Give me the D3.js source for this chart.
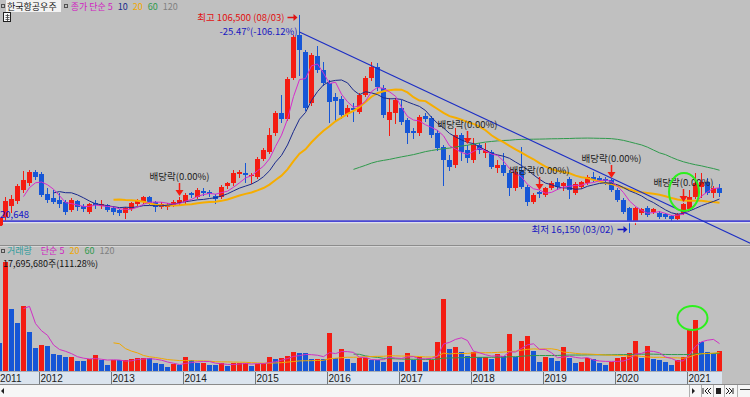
<!DOCTYPE html>
<html>
<head>
<meta charset="utf-8">
<script src="https://cdn.jsdelivr.net/npm/d3@7"></script>
<style>
  body { margin: 0; background: #c0c0c0; }
  svg { display: block; font-family: "Noto Sans CJK KR", "Noto Sans", sans-serif; }
</style>
</head>
<body>
<svg id="chart" width="750" height="397"></svg>
<script>
// 월봉 구간 (2011-06 ~ 2021-06)
var months = d3.timeMonth.range(new Date(2011, 5, 1), new Date(2021, 6, 1));
var keys = months.map(d3.timeFormat("%Y-%m"));

// 시가 / 고가 / 저가 / 종가 (원)
var open = [18650,22400,26950,29050,33650,36550,41150,40300,31950,30300,
  29450,28650,25300,29050,26950,24500,28200,26950,27400,26150,
  25300,24050,25700,27800,28650,30700,28650,26550,26550,27400,
  28200,28650,32400,30700,33200,32800,31150,30700,35300,36550,
  40300,40700,39450,39050,46550,49450,57350,65700,63200,80250,
  98150,91100,69850,89450,83600,78200,72350,71550,65300,67800,
  66100,73200,80250,84850,76100,62800,65700,67800,62800,58200,
  57350,64450,63600,57350,51550,46150,44050,56550,50300,46150,
  52350,49050,49450,42800,44050,40700,34450,41950,34900,28650,
  32800,31550,34450,36950,35300,38200,32400,34900,36550,39050,
  38650,38200,37800,33650,29450,26150,20300,24050,26150,24500,
  24050,23650,22800,21550,24050,25700,30700,34900,36950,32400,
  34450];
var high = [23250,30700,31550,36150,41550,41950,41950,41150,34450,33650,
  32400,29450,30300,29450,27800,28200,29450,29450,27800,26950,
  25700,26550,28650,29900,31150,31150,29050,28650,28200,29450,
  30700,32400,32800,34450,34450,33650,31950,35700,36950,41950,
  41950,44900,40700,47400,51100,59450,66550,73200,80700,98150,
  106500,91950,90700,93600,86950,79450,74000,72750,69050,69850,
  74000,81100,86950,86500,77350,71950,71950,71100,63600,59450,
  64850,65700,64450,58600,52350,48200,59450,57350,52350,55300,
  53200,53200,50300,46150,49050,41950,41950,51550,35700,32400,
  33200,34900,37400,38650,36950,39050,36950,37400,39900,41150,
  39450,39050,38200,34450,30300,26550,26550,26150,26950,26150,
  24900,24050,23250,24050,28200,33650,40700,40700,38650,35300,
  36150];
var low = [18250,20750,24500,28200,32800,35700,38200,31150,28650,28200,
  26550,23650,24900,25300,24900,24050,26150,26150,24900,23650,
  23250,21950,25300,27400,28200,27800,24900,26150,25700,26950,
  27400,28200,30700,30300,31550,31150,28200,30300,34450,35700,
  39050,36950,36550,38650,46150,49050,56550,61950,62800,79850,
  81500,66950,69050,82750,77350,61950,62800,63600,64450,62350,
  65700,72750,79450,75250,64050,56550,61550,61100,53200,55300,
  56550,62350,55700,50300,35700,41950,43200,46150,45300,45300,
  49050,47400,42800,41150,39900,31550,33650,34450,27400,28200,
  30700,31150,34050,34050,33650,30300,31950,34450,36150,37400,
  37400,36150,33200,29050,24050,16150,19500,23650,22800,24050,
  21950,21950,21150,21550,23650,25300,30300,30700,31950,30700,
  31150];
var close = [22400,29050,29900,35300,37800,41150,39050,31550,29450,28650,
  27800,24500,29450,26550,25700,27800,27400,27800,25300,24500,
  24050,26150,28200,29450,30700,28200,26550,27800,27400,28650,
  29450,31550,31550,33650,32400,31950,29900,34900,36550,40700,
  41150,39900,39900,46550,50300,56550,65700,63200,79850,97350,
  91950,67800,89850,83600,78200,70300,70700,64850,67800,66950,
  73200,80250,84850,76500,64850,66100,71100,61950,57350,57350,
  64050,63200,56550,51100,46150,43200,56550,49450,46950,52350,
  50300,50300,43200,44050,40700,34450,41150,34900,28650,31550,
  31950,34450,36550,34900,36550,33650,36150,36950,39050,37800,
  37800,37400,33650,29450,24500,20300,26150,25700,23250,25700,
  22400,22400,21550,23650,27800,30700,36550,36950,32400,34450,
  32400];

// 거래량 (백만주)
var volume = [24.8,96.5,54.9,42.5,57.5,34.5,20.4,23.0,22.5,15.0,
  14.2,12.4,12.8,8.8,8.6,10.6,14.2,9.7,5.3,9.7,
  9.5,9.8,10.6,11.5,11.6,11.4,7.1,6.2,3.5,6.2,
  5.3,12.4,9.7,7.1,7.5,5.3,5.0,7.1,4.4,7.1,
  7.3,7.5,4.4,6.2,7.1,12.4,10.6,11.5,13.3,16.8,
  15.9,15.6,10.6,10.8,10.5,33.6,11.5,19.5,10.6,7.1,
  11.5,11.6,9.7,9.5,8.0,22.1,8.0,7.9,15.9,9.7,
  12.4,8.0,9.7,25.7,63.7,19.5,21.2,16.8,13.3,16.8,
  12.4,12.6,10.6,15.0,13.3,32.7,12.4,26.5,31.0,17.7,
  8.0,12.4,11.5,8.8,21.2,11.5,7.1,8.0,11.5,10.6,
  7.1,5.3,8.0,11.5,12.4,15.9,26.5,11.5,22.1,10.6,
  9.7,8.0,5.3,9.7,12.4,36.3,45.1,25.7,16.8,15.9,
  17.7];

// 배당락 표시 월
var dividendMonths = ["2013-12", "2017-12", "2018-12", "2019-12", "2020-12"];
var years = ["2011","2012","2013","2014","2015","2016","2017","2018","2019","2020","2021"];
var hLinePrice = 20648;
var trendFrom = { key: "2015-08", price: 99400 };
var trendSlope = -1170;   // 원 / 월
var highKey = "2015-08", lowKey = "2020-03";

var RED = "#f41c12", BLUE = "#1656d6";

var svg = d3.select("#chart");

var x = d3.scaleBand().domain(keys).range([-4, 722]);
var yP = d3.scaleLinear().domain([16150, 106500]).range([232, 15]);
var yV = d3.scaleLinear().domain([0, 115]).range([371, 241]);
function cx(k) { return x(k) + 3.5; }

function movingAvg(arr, n) {
  return arr.map(function(d, i) {
    if (i < n - 1) return null;
    return d3.mean(arr.slice(i - n + 1, i + 1));
  });
}

// 패널 구분선
svg.append("line").attr("x1", 0).attr("x2", 750).attr("y1", 245.5).attr("y2", 245.5).attr("stroke", "#8c8c8c");
svg.append("line").attr("x1", 0).attr("x2", 750).attr("y1", 246.5).attr("y2", 246.5).attr("stroke", "#d6d6d6");

// 캔들
var cg = svg.append("g");
cg.selectAll("line").data(keys).join("line")
  .attr("x1", cx).attr("x2", cx)
  .attr("y1", function(k, i) { return Math.round(yP(high[i])); })
  .attr("y2", function(k, i) { return Math.round(yP(low[i])) + 1; })
  .attr("stroke", function(k, i) { return close[i] >= open[i] ? RED : BLUE; });
cg.selectAll("rect").data(keys).join("rect")
  .attr("x", function(k) { return x(k) + 1; })
  .attr("width", 5)
  .attr("y", function(k, i) { return Math.round(yP(Math.max(open[i], close[i]))); })
  .attr("height", function(k, i) {
    var t = Math.round(yP(Math.max(open[i], close[i]))), b = Math.round(yP(Math.min(open[i], close[i])));
    return Math.max(1, b - t);
  })
  .attr("fill", function(k, i) { return close[i] >= open[i] ? RED : BLUE; });

// 이동평균선 (가격)
var maStyles = [
  { n: 60, color: "#2f9a4c", w: 1 },
  { n: 20, color: "#f6ad00", w: 2 },
  { n: 10, color: "#1a2a8c", w: 1 },
  { n: 5, color: "#d62ccc", w: 1 }
];
maStyles.forEach(function(s) {
  var ma = movingAvg(close, s.n);
  var line = d3.line().defined(function(d) { return d != null; })
    .x(function(d, i) { return cx(keys[i]); }).y(function(d) { return yP(d); });
  svg.append("path").attr("d", line(ma)).attr("fill", "none")
    .attr("stroke", s.color).attr("stroke-width", s.w);
});

// 수평선
svg.append("line").attr("x1", 0).attr("x2", 750)
  .attr("y1", yP(hLinePrice)).attr("y2", yP(hLinePrice))
  .attr("stroke", "#4a48d4").attr("stroke-width", 2);
svg.append("line").attr("x1", 0).attr("x2", 750)
  .attr("y1", yP(hLinePrice) + 1.5).attr("y2", yP(hLinePrice) + 1.5)
  .attr("stroke", "#ececf8").attr("stroke-width", 1);
svg.append("rect").attr("x", 0).attr("y", yP(hLinePrice) - 4).attr("width", 3).attr("height", 8).attr("fill", RED);

// 추세선
var xEnd = 752;
var monthsToEnd = (xEnd - cx(trendFrom.key)) / x.step();
svg.append("line")
  .attr("x1", cx(trendFrom.key)).attr("y1", yP(trendFrom.price))
  .attr("x2", xEnd).attr("y2", yP(trendFrom.price + trendSlope * monthsToEnd))
  .attr("stroke", "#1c2ec4").attr("stroke-width", 1.2);

// 배당락 화살표
dividendMonths.forEach(function(k) {
  var i = keys.indexOf(k);
  var bx = cx(k), by = Math.round(yP(high[i])) - 1;
  svg.append("line").attr("x1", bx).attr("x2", bx).attr("y1", by - 13).attr("y2", by - 5)
    .attr("stroke", RED).attr("stroke-width", 1.5);
  svg.append("path").attr("d", "M" + (bx - 4) + "," + (by - 6) + "L" + (bx + 4) + "," + (by - 6) + "L" + bx + "," + by + "Z")
    .attr("fill", RED);
  svg.append("text").attr("x", bx).attr("y", by - 16).attr("text-anchor", "middle")
    .attr("font-size", 9.5).attr("fill", "#202020").text("배당락(0.00%)");
});

// 최고 / 최저 표시
var hx = cx(highKey), hy = yP(high[keys.indexOf(highKey)]);
svg.append("text").attr("x", hx - 15).attr("y", hy + 6).attr("text-anchor", "end")
  .attr("font-size", 9.5).attr("fill", "#e01010").text("최고 106,500 (08/03)");
svg.append("line").attr("x1", hx - 12).attr("x2", hx - 5).attr("y1", hy + 2.5).attr("y2", hy + 2.5)
  .attr("stroke", "#e01010").attr("stroke-width", 1.5);
svg.append("path").attr("d", "M" + (hx - 6) + "," + (hy - 1) + "L" + (hx - 2) + "," + (hy + 2.5) + "L" + (hx - 6) + "," + (hy + 6) + "Z")
  .attr("fill", "#e01010");
svg.append("text").attr("x", hx - 2).attr("y", yP(trendFrom.price) + 3).attr("text-anchor", "end")
  .attr("font-size", 9.5).attr("fill", "#1818c0").text("-25.47°(-106.12%)");

var lx = cx(lowKey), ly = yP(low[keys.indexOf(lowKey)]);
svg.append("text").attr("x", lx - 16).attr("y", ly + 1).attr("text-anchor", "end")
  .attr("font-size", 9.5).attr("fill", "#1818c0").text("최저 16,150 (03/02)");
svg.append("line").attr("x1", lx - 12).attr("x2", lx - 5).attr("y1", ly - 2.5).attr("y2", ly - 2.5)
  .attr("stroke", "#1818c0").attr("stroke-width", 1.5);
svg.append("path").attr("d", "M" + (lx - 6) + "," + (ly - 6) + "L" + (lx - 2) + "," + (ly - 2.5) + "L" + (lx - 6) + "," + (ly + 1) + "Z")
  .attr("fill", "#1818c0");

svg.append("text").attr("x", 0).attr("y", yP(hLinePrice) - 3)
  .attr("font-size", 9.5).attr("fill", "#1414c8").text("20,648");

// 거래량 막대
svg.append("g").selectAll("rect").data(keys).join("rect")
  .attr("x", function(k) { return x(k) + 1; })
  .attr("width", 5)
  .attr("y", function(k, i) { return Math.round(yV(volume[i])); })
  .attr("height", function(k, i) { return 371 - Math.round(yV(volume[i])); })
  .attr("fill", function(k, i) { return i > 0 && volume[i] > volume[i - 1] ? RED : BLUE; });

// 이동평균선 (거래량)
[{ n: 60, color: "#2f9a4c" }, { n: 20, color: "#f0a800" }, { n: 5, color: "#d030c4" }].forEach(function(s) {
  var ma = movingAvg(volume, s.n);
  var line = d3.line().defined(function(d) { return d != null; })
    .x(function(d, i) { return cx(keys[i]); }).y(function(d) { return yV(d); });
  svg.append("path").attr("d", line(ma)).attr("fill", "none")
    .attr("stroke", s.color).attr("stroke-width", 1);
});

// 녹색 손그림 원
svg.append("ellipse").attr("cx", cx("2020-12") + 0.5).attr("cy", 192).attr("rx", 15).attr("ry", 19)
  .attr("fill", "none").attr("stroke", "#2cf01c").attr("stroke-width", 2);
svg.append("ellipse").attr("cx", cx("2021-01") + 3).attr("cy", 318).attr("rx", 15).attr("ry", 12)
  .attr("fill", "none").attr("stroke", "#2cf01c").attr("stroke-width", 2);

// 범례
function legend(y, items) {
  var t = svg.append("text").attr("x", 0).attr("y", y).attr("font-size", 9);
  items.forEach(function(it) {
    t.append("tspan").attr("fill", it[1]).attr("dx", it[2] || 0).text(it[0]);
  });
  return t;
}
svg.append("rect").attr("x", 6).attr("y", 0).attr("width", 55).attr("height", 12).attr("fill", "#f2f2f2");
svg.append("rect").attr("x", 1.5).attr("y", 4.5).attr("width", 3).attr("height", 3).attr("fill", "none").attr("stroke", "#505050");
svg.append("rect").attr("x", 64.5).attr("y", 4.5).attr("width", 3).attr("height", 3).attr("fill", "none").attr("stroke", "#505050");
legend(10, [["한국항공우주", "#101010", 7], ["종가 단순 5", "#d020c0", 14], ["10", "#1a2a8c", 5], ["20", "#f0a800", 5], ["60", "#2f9a4c", 5], ["120", "#808080", 5]]);
svg.append("rect").attr("x", 3.5).attr("y", 12.5).attr("width", 7).attr("height", 9).attr("fill", "#fafafa").attr("stroke", "#202020");
svg.append("path").attr("d", "M5.5,15.5H9.5M5.5,17.5H9.5M5.5,19.5H9.5M7.5,14V21").attr("stroke", "#404040").attr("stroke-width", 0.8);

svg.append("rect").attr("x", 1.5).attr("y", 249.5).attr("width", 3).attr("height", 3).attr("fill", "none").attr("stroke", "#505050");
legend(254, [["거래량", "#2e9c9c", 7], ["단순 5", "#d020c0", 9], ["20", "#f0a800", 5], ["60", "#2f9a4c", 5], ["120", "#808080", 5]]);
svg.append("text").attr("x", 3).attr("y", 267).attr("font-size", 9).attr("fill", "#101010").text("17,695,680주(111.28%)");

// 날짜 축
svg.append("rect").attr("x", 0).attr("y", 372).attr("width", 722).attr("height", 13).attr("fill", "#dbe4ee");
svg.append("line").attr("x1", 0).attr("x2", 722).attr("y1", 371.5).attr("y2", 371.5).attr("stroke", "#a8b0b8");
svg.append("line").attr("x1", 0).attr("x2", 750).attr("y1", 384.5).attr("y2", 384.5).attr("stroke", "#8a8a8a");
years.forEach(function(yr) {
  var k = yr + "-01";
  var tx = x(k) === undefined ? null : x(k) + 1;
  if (tx !== null) {
    svg.append("line").attr("x1", tx + 0.5).attr("x2", tx + 0.5).attr("y1", 372).attr("y2", 384)
      .attr("stroke", "#707880");
  }
  svg.append("text").attr("x", tx === null ? 0 : tx + 1.5).attr("y", 382)
    .attr("font-size", 10).attr("fill", "#202020").attr("font-family", "Liberation Sans Narrow, Liberation Sans, sans-serif")
    .text(yr);
});

// 스크롤바
svg.append("rect").attr("x", 0).attr("y", 385).attr("width", 750).attr("height", 12).attr("fill", "#f6f6f6");
svg.append("path").attr("d", "M1,391L4,388V394Z").attr("fill", "#202020");
svg.append("path").attr("d", "M692,388L695,391L692,394Z").attr("fill", "#202020");
svg.append("path").attr("d", "M703,388V394M708,388L705,391L708,394M711,388L708,391L711,394").attr("stroke", "#202020").attr("fill", "none");
svg.append("rect").attr("x", 716).attr("y", 388).attr("width", 5).attr("height", 6).attr("fill", "#202020");
svg.append("path").attr("d", "M726,388L729,391L726,394M729,388L732,391L729,394M733,388V394").attr("stroke", "#202020").attr("fill", "none");
svg.append("line").attr("x1", 740).attr("x2", 750).attr("y1", 389.5).attr("y2", 389.5).attr("stroke", "#404040");
[689.5, 701.5, 713.5, 724.5, 737.5].forEach(function(bx) {
  svg.append("line").attr("x1", bx).attr("x2", bx).attr("y1", 385).attr("y2", 397).attr("stroke", "#b0b0b0");
});
</script>
</body>
</html>
